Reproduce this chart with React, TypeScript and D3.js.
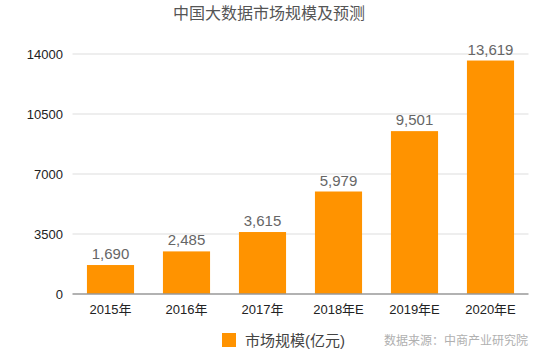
import React from "react";
import * as d3 from "d3";

const categories = ["2015年", "2016年", "2017年", "2018年E", "2019年E", "2020年E"];
const values = [1690, 2485, 3615, 5979, 9501, 13619];
const yTicks = [0, 3500, 7000, 10500, 14000];
const title = "中国大数据市场规模及预测";
const legendLabel = "市场规模(亿元)";
const sourceText = "数据来源：中商产业研究院";

export default function App() {
  const W = 541, H = 359;
  const left = 72.5, right = 528.5, top = 54, bottom = 294;
  const x = d3.scaleBand<string>().domain(categories).range([left, right]).paddingInner(0.38).paddingOuter(0.19);
  const y = d3.scaleLinear().domain([0, 14000]).range([bottom, top]);
  const fmt = d3.format(",");
  const font = "'Helvetica Neue', 'Liberation Sans', 'Noto Sans CJK SC', sans-serif";
  return (
    <svg width={W} height={H} style={{ position: "absolute", left: 0, top: 0, fontFamily: font }}>
      <rect width={W} height={H} fill="#fff" />
      <text x={269} y={19} textAnchor="middle" fontSize={16} fill="#555">{title}</text>
      {yTicks.map((t) => (
        <g key={t}>
          {t !== 0 && <line x1={left} x2={right} y1={y(t)} y2={y(t)} stroke="#ddd" strokeWidth={1} />}
          <text x={63} y={y(t)} dy="0.35em" textAnchor="end" fontSize={13} fill="#222">{t}</text>
        </g>
      ))}
      {values.map((v, i) => (
        <g key={categories[i]}>
          <rect x={x(categories[i])} y={y(v)} width={x.bandwidth()} height={bottom - y(v)} fill="#FF9300" />
          <text x={(x(categories[i]) as number) + x.bandwidth() / 2} y={y(v) - 6} textAnchor="middle" fontSize={15} fill="#666">{fmt(v)}</text>
          <text x={(x(categories[i]) as number) + x.bandwidth() / 2} y={314} textAnchor="middle" fontSize={13} fill="#222">{categories[i]}</text>
        </g>
      ))}
      <line x1={left} x2={right} y1={bottom} y2={bottom} stroke="#999" strokeWidth={1.5} />
      <rect x={222} y={333} width={14} height={14} fill="#FF9300" />
      <text x={245} y={345.5} fontSize={15} fill="#444">{legendLabel}</text>
      <text x={528} y={345} textAnchor="end" fontSize={12} fill="#b0b0b0">{sourceText}</text>
    </svg>
  );
}
